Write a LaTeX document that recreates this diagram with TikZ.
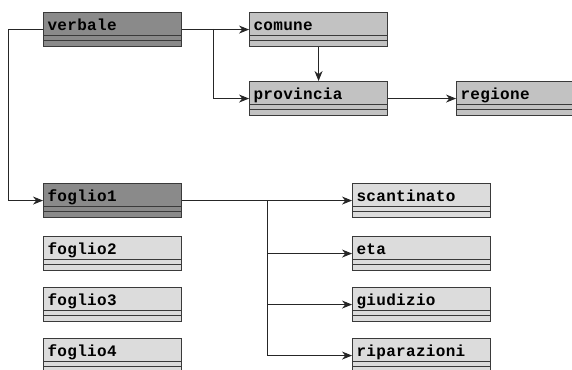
\documentclass[tikz,border=0pt]{standalone}
\usepackage{fontspec}
\newfontfamily\boxfont[LetterSpace=2,BoldFont={Liberation Mono Bold}]{Liberation Mono}
\usetikzlibrary{arrows.meta}
\definecolor{darkbox}{HTML}{8A8A8A}
\definecolor{midbox}{HTML}{C2C2C2}
\definecolor{lightbox}{HTML}{DCDCDC}
\definecolor{edge}{HTML}{3A3A3A}
\tikzset{
  classbox/.style={rectangle, draw=edge, line width=1.1pt, anchor=north west,
    minimum width=138pt, minimum height=34pt, inner xsep=4pt, inner ysep=0pt,
    text width=130pt, align=left, text height=13pt, text depth=11pt,
    font=\boxfont\bfseries\fontsize{16}{16}\selectfont,
    path picture={
      \draw[edge, line width=0.9pt] ([yshift=11pt]path picture bounding box.south west) -- ([yshift=11pt]path picture bounding box.south east);
      \draw[edge, line width=0.9pt] ([yshift=6pt]path picture bounding box.south west) -- ([yshift=6pt]path picture bounding box.south east);
    }},
  conn/.style={draw=black!85, line width=0.9pt, -{Stealth[length=10pt,width=8pt]}},
  plain/.style={draw=black!85, line width=0.9pt}
}
\begin{document}
\begin{tikzpicture}[x=1pt,y=-1pt]
\useasboundingbox (0,0) rectangle (572,369);
\clip (0,0) rectangle (572,369);
\node[classbox, fill=darkbox] (verbale) at (43,12) {verbale};
\node[classbox, fill=midbox] (comune) at (249,12) {comune};
\node[classbox, fill=midbox] (provincia) at (249,81) {provincia};
\node[classbox, fill=midbox] (regione) at (456,81) {regione};
\node[classbox, fill=darkbox] (foglio1) at (43,183) {foglio1};
\node[classbox, fill=lightbox] (foglio2) at (43,236) {foglio2};
\node[classbox, fill=lightbox] (foglio3) at (43,287) {foglio3};
\node[classbox, fill=lightbox] (foglio4) at (43,338) {foglio4};
\node[classbox, fill=lightbox] (scantinato) at (352,183) {scantinato};
\node[classbox, fill=lightbox] (eta) at (352,236) {eta};
\node[classbox, fill=lightbox] (giudizio) at (352,287) {giudizio};
\node[classbox, fill=lightbox] (riparazioni) at (352,338) {riparazioni};
\coordinate (jv) at (213,29);
\coordinate (lx) at (8,0);
\coordinate (jf) at (267,200);
\draw[conn] (verbale.east) -- (comune.west);
\draw[conn] (jv) |- (provincia.west);
\draw[conn] (comune.south) -- (comune.south |- provincia.north);
\draw[conn] (provincia.east) -- (regione.west);
\draw[conn] (verbale.west) -- (verbale.west -| lx) |- (foglio1.west);
\draw[conn] (foglio1.east) -- (scantinato.west);
\draw[conn] (jf) |- (eta.west);
\draw[conn] (jf) |- (giudizio.west);
\draw[conn] (jf) |- (riparazioni.west);
\end{tikzpicture}
\end{document}
